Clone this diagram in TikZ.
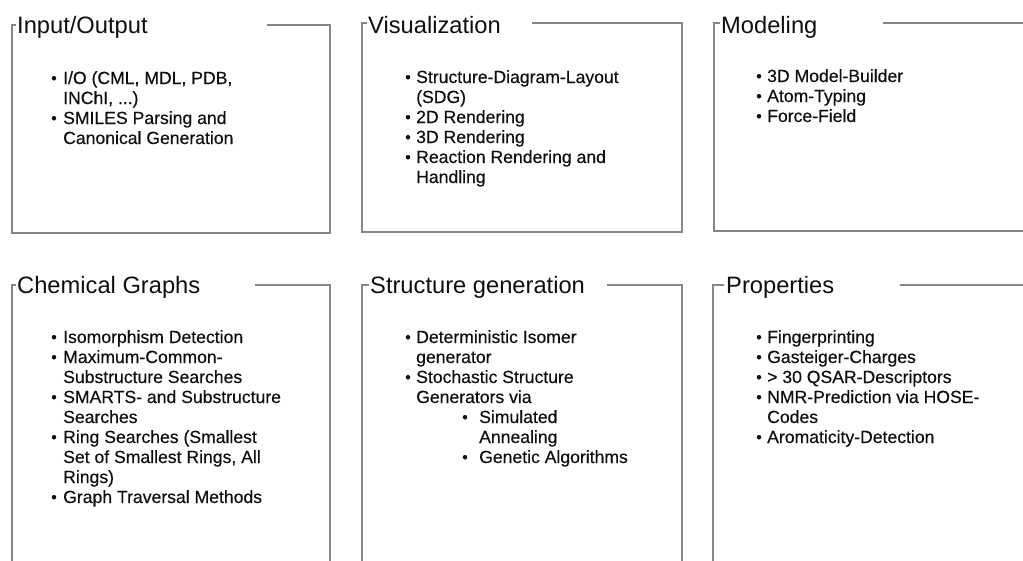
\documentclass[tikz,border=0pt]{standalone}
\usepackage{fontspec}
\setmainfont{Liberation Sans}
\newfontfamily\listfont[FakeBold=0.35]{Liberation Sans}
\definecolor{framegray}{RGB}{135,135,135}
\definecolor{ink}{RGB}{15,15,15}
\newcommand\bul{\raisebox{0.5pt}{\fontsize{16}{16}\selectfont •}}
\newcommand\subit[1]{\hspace*{46pt}\makebox[17pt][l]{\bul}#1}
\newcommand\subcont[1]{\hspace*{63pt}#1}
\tikzset{
  frame/.style={draw=framegray, line width=2.8pt, line join=miter},
  boxtitle/.style={anchor=base west, inner sep=0pt, text=ink, font=\fontsize{23.7}{26}\selectfont},
  blist/.style={anchor=base west, inner sep=0pt, text=ink, font=\listfont\fontsize{17.6}{20}\selectfont},
}
\begin{document}
\begin{tikzpicture}[x=1pt,y=-1pt]
\useasboundingbox (0,0) rectangle (1023,560);
\clip (0,0) rectangle (1023,560);
\fill[white] (0,0) rectangle (1023,560);
% frames
\draw[frame] (267,25) -- (330,25) -- (330,233) -- (12,233) -- (12,25) -- (16,25);
\draw[frame] (532,23) -- (682,23) -- (682,232) -- (362,232) -- (362,23) -- (367,23);
\draw[frame] (883,23) -- (1040,23) -- (1040,231) -- (714,231) -- (714,23) -- (720,23);
\draw[frame] (255,285) -- (330,285) -- (330,580) -- (12,580) -- (12,285) -- (16,285);
\draw[frame] (607,285) -- (682,285) -- (682,580) -- (362,580) -- (362,285) -- (369,285);
\draw[frame] (900,285) -- (1040,285) -- (1040,580) -- (713,580) -- (713,285) -- (724,285);
% titles
\node[boxtitle] (t1) at (17,33) {Input/Output};
\node[boxtitle] (t2) at (368,33) {Visualization};
\node[boxtitle] (t3) at (721,33) {Modeling};
\node[boxtitle] (t4) at (17,293) {Chemical Graphs};
\node[boxtitle] (t5) at (370,293) {Structure generation};
\node[boxtitle] (t6) at (726,293) {Properties};
% lists
\node[blist] (l1) at (51,84) {\begin{tabular}[t]{@{}p{12pt}@{}l@{}}
\bul & I/O (CML, MDL, PDB,\\
 & INChI, ...)\\
\bul & SMILES Parsing and\\
 & Canonical Generation
\end{tabular}};
\node[blist] (l2) at (405,83) {\begin{tabular}[t]{@{}p{11pt}@{}l@{}}
\bul & Structure-Diagram-Layout\\
 & (SDG)\\
\bul & 2D Rendering\\
\bul & 3D Rendering\\
\bul & Reaction Rendering and\\
 & Handling
\end{tabular}};
\node[blist] (l3) at (756,82) {\begin{tabular}[t]{@{}p{11pt}@{}l@{}}
\bul & 3D Model-Builder\\
\bul & Atom-Typing\\
\bul & Force-Field
\end{tabular}};
\node[blist] (l4) at (51,343) {\begin{tabular}[t]{@{}p{12pt}@{}l@{}}
\bul & Isomorphism Detection\\
\bul & Maximum-Common-\\
 & Substructure Searches\\
\bul & SMARTS- and Substructure\\
 & Searches\\
\bul & Ring Searches (Smallest\\
 & Set of Smallest Rings, All\\
 & Rings)\\
\bul & Graph Traversal Methods
\end{tabular}};
\node[blist] (l5) at (405,343) {\begin{tabular}[t]{@{}p{11pt}@{}l@{}}
\bul & Deterministic Isomer\\
 & generator\\
\bul & Stochastic Structure\\
 & Generators via\\
 & \subit{Simulated}\\
 & \subcont{Annealing}\\
 & \subit{Genetic Algorithms}
\end{tabular}};
\node[blist] (l6) at (756,343) {\begin{tabular}[t]{@{}p{11pt}@{}l@{}}
\bul & Fingerprinting\\
\bul & Gasteiger-Charges\\
\bul & > 30 QSAR-Descriptors\\
\bul & NMR-Prediction via HOSE-\\
 & Codes\\
\bul & Aromaticity-Detection
\end{tabular}};
\end{tikzpicture}
\end{document}
